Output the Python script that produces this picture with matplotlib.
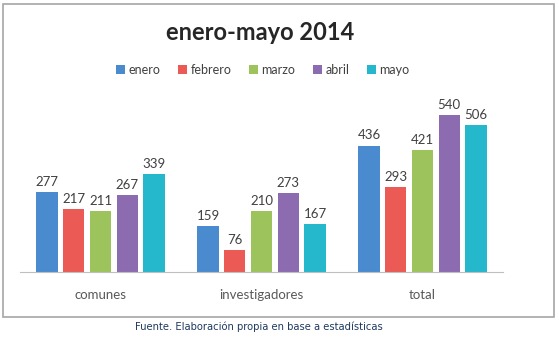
import numpy as np
import matplotlib.pyplot as plt
from matplotlib.patches import Rectangle

categorias = ['comunes', 'investigadores', 'total']
meses = ['enero', 'febrero', 'marzo', 'abril', 'mayo']
valores = {
    'enero':   [277, 159, 436],
    'febrero': [217, 76, 293],
    'marzo':   [211, 210, 421],
    'abril':   [267, 273, 540],
    'mayo':    [339, 167, 506],
}
colores = ['#4a8bd0', '#eb5a55', '#9dc45c', '#8c6bb1', '#25b7cc']

plt.rcParams['font.family'] = ['Lato', 'DejaVu Sans']

W, H = 559, 338
fig = plt.figure(figsize=(W / 100, H / 100), dpi=100)

# marco del grafico
fig.patches.append(Rectangle((3 / W, 1 - 317 / H), 551 / W, 313 / H,
                             transform=fig.transFigure, fill=False,
                             edgecolor='#a6a6a6', linewidth=1.2))

ax = fig.add_axes([20 / W, 1 - 272 / H, 483 / W, 174 / H])
x = np.arange(len(categorias))
paso = 0.166
ancho = 0.132
for i, mes in enumerate(meses):
    pos = x + (i - 2) * paso
    barras = ax.bar(pos, valores[mes], ancho, color=colores[i], label=mes)
    for b, v in zip(barras, valores[mes]):
        ax.text(b.get_x() + b.get_width() / 2, v + 14, str(v),
                ha='center', va='bottom', fontsize=9.5, color='#404040')

ax.set_xlim(-0.5, 2.5)
ax.set_ylim(0, 600)
ax.set_yticks([])
ax.set_xticks(x)
ax.set_xticklabels(categorias, fontsize=9.5, color='#595959')
ax.tick_params(axis='x', length=0, pad=12)
for s in ['top', 'right', 'left']:
    ax.spines[s].set_visible(False)
ax.spines['bottom'].set_color('#bfbfbf')

fig.text(260 / W, 1 - 33 / H, 'enero-mayo 2014', ha='center', va='center',
         fontsize=17, fontweight='bold', color='#262626')

fig.legend(loc='center', bbox_to_anchor=(263 / W, 1 - 70 / H), ncol=5,
           frameon=False, fontsize=9, handlelength=0.7, handleheight=0.7,
           columnspacing=1.4, handletextpad=0.3, labelcolor='#404040')

fig.text(259 / W, 1 - 327 / H, 'Fuente. Elaboración propia en base a estadísticas',
         ha='center', va='center', fontsize=8, color='#1f3a5f',
         family='DejaVu Sans', fontstretch='condensed')

fig.savefig('out.png', dpi=100)
